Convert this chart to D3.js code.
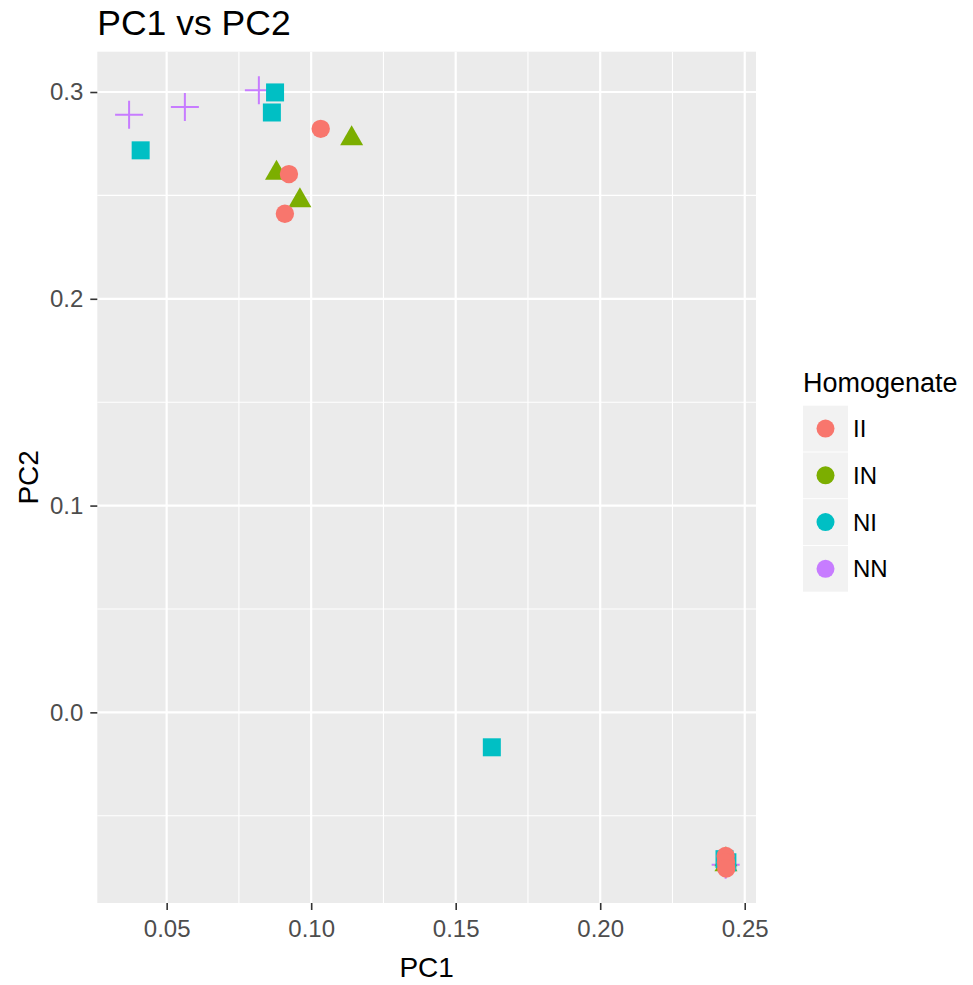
<!DOCTYPE html>
<html>
<head>
<meta charset="utf-8">
<script src="https://cdn.jsdelivr.net/npm/d3@7"></script>
<style>
  body { margin: 0; background: #fff; }
  text { font-family: Arial, "Liberation Sans", sans-serif; }
</style>
</head>
<body>
<svg id="chart" width="973" height="985"></svg>
<script>
// groups in legend order with ggplot default hues
const groups = ['II', 'IN', 'NI', 'NN'];
const colors = ['#F8766D', '#7CAE00', '#00BFC4', '#C77CFF'];

// PC scores
const nnPC1 = [0.0370, 0.0563, 0.0819, 0.2434];
const nnPC2 = [0.2890, 0.2927, 0.3008, -0.0737];
const inPC1 = [0.1140, 0.0880, 0.0961, 0.2435, 0.2435];
const inPC2 = [0.2775, 0.2608, 0.2475, -0.0712, -0.0736];
const niPC1 = [0.0410, 0.0875, 0.0864, 0.1625, 0.2430, 0.2440];
const niPC2 = [0.2718, 0.2998, 0.2901, -0.0169, -0.0710, -0.0725];
const iiPC1 = [0.1033, 0.0923, 0.0909, 0.2434, 0.2435, 0.2436];
const iiPC2 = [0.2822, 0.2603, 0.2411, -0.0695, -0.0725, -0.0755];

const xTicks = [0.05, 0.10, 0.15, 0.20, 0.25];
const yTicks = [0.0, 0.1, 0.2, 0.3];
const xMinor = [0.075, 0.125, 0.175, 0.225];
const yMinor = [-0.05, 0.05, 0.15, 0.25];
const xLimits = [0.026, 0.2539];
const yLimits = [-0.0922, 0.3195];

// build point list, drawing order NN, IN, NI, II
const points = [];
nnPC1.forEach((v, i) => points.push({ g: 'NN', x: v, y: nnPC2[i] }));
inPC1.forEach((v, i) => points.push({ g: 'IN', x: v, y: inPC2[i] }));
niPC1.forEach((v, i) => points.push({ g: 'NI', x: v, y: niPC2[i] }));
iiPC1.forEach((v, i) => points.push({ g: 'II', x: v, y: iiPC2[i] }));

const svg = d3.select('#chart');
const margin = { top: 51.7, right: 217, bottom: 82, left: 97.3 };
const width = 973 - margin.left - margin.right;
const height = 985 - margin.top - margin.bottom;

const x = d3.scaleLinear().domain(xLimits).range([0, width]);
const y = d3.scaleLinear().domain(yLimits).range([height, 0]);
const color = d3.scaleOrdinal().domain(groups).range(colors);

const g = svg.append('g')
  .attr('transform', `translate(${margin.left},${margin.top})`);

// panel background
g.append('rect')
  .attr('width', width)
  .attr('height', height)
  .attr('fill', '#EBEBEB');

// minor grid
g.selectAll('.xminor').data(xMinor).enter().append('line')
  .attr('x1', d => x(d)).attr('x2', d => x(d))
  .attr('y1', 0).attr('y2', height)
  .attr('stroke', '#fff').attr('stroke-width', 1.1);
g.selectAll('.yminor').data(yMinor).enter().append('line')
  .attr('y1', d => y(d)).attr('y2', d => y(d))
  .attr('x1', 0).attr('x2', width)
  .attr('stroke', '#fff').attr('stroke-width', 1.1);

// major grid
g.selectAll('.xmajor').data(xTicks).enter().append('line')
  .attr('x1', d => x(d)).attr('x2', d => x(d))
  .attr('y1', 0).attr('y2', height)
  .attr('stroke', '#fff').attr('stroke-width', 2.2);
g.selectAll('.ymajor').data(yTicks).enter().append('line')
  .attr('y1', d => y(d)).attr('y2', d => y(d))
  .attr('x1', 0).attr('x2', width)
  .attr('stroke', '#fff').attr('stroke-width', 2.2);

// axes
const xAxis = g.append('g')
  .attr('transform', `translate(0,${height})`)
  .call(d3.axisBottom(x).tickValues(xTicks).tickFormat(d3.format('.2f')).tickSize(7).tickPadding(10));
const yAxis = g.append('g')
  .call(d3.axisLeft(y).tickValues(yTicks).tickFormat(d3.format('.1f')).tickSize(7).tickPadding(7));

[xAxis, yAxis].forEach(a => {
  a.select('.domain').remove();
  a.selectAll('.tick line').attr('stroke', '#333').attr('stroke-width', 1.6);
  a.selectAll('.tick text')
    .attr('fill', '#4D4D4D')
    .style('font-size', '24px')
    .style('font-family', 'Arial, "Liberation Sans", sans-serif');
});

// points
const tri = d3.symbol().type(d3.symbolTriangle).size(229);
const drawn = g.append('g');
points.forEach(p => {
  const cx = x(p.x), cy = y(p.y), c = color(p.g);
  if (p.g === 'II') {
    drawn.append('circle').attr('cx', cx).attr('cy', cy).attr('r', 9.2).attr('fill', c);
  } else if (p.g === 'IN') {
    drawn.append('path').attr('d', tri).attr('transform', `translate(${cx},${cy})`).attr('fill', c);
  } else if (p.g === 'NI') {
    drawn.append('rect').attr('x', cx - 9).attr('y', cy - 9).attr('width', 18).attr('height', 18).attr('fill', c);
  } else {
    drawn.append('path')
      .attr('d', `M${cx - 14},${cy}H${cx + 14}M${cx},${cy - 14}V${cy + 14}`)
      .attr('stroke', c).attr('stroke-width', 2).attr('fill', 'none');
  }
});

// titles
svg.append('text')
  .attr('x', margin.left)
  .attr('y', 35)
  .style('font-size', '35.5px')
  .attr('fill', '#000')
  .text('PC1 vs PC2');

svg.append('text')
  .attr('x', margin.left + width / 2)
  .attr('y', 977)
  .attr('text-anchor', 'middle')
  .style('font-size', '28px')
  .text('PC1');

svg.append('text')
  .attr('transform', `translate(38,${margin.top + height / 2}) rotate(-90)`)
  .attr('text-anchor', 'middle')
  .style('font-size', '28px')
  .text('PC2');

// legend
const legend = svg.append('g').attr('transform', 'translate(803,0)');
legend.append('text')
  .attr('x', 0).attr('y', 392)
  .style('font-size', '27px')
  .text('Homogenate');

const keyY = d3.scaleBand().domain(groups).range([405.7, 405.7 + 46.5 * groups.length]).paddingInner(0.02);
const keys = legend.selectAll('.key').data(groups).enter().append('g')
  .attr('transform', d => `translate(0,${keyY(d)})`);
keys.append('rect')
  .attr('width', 45).attr('height', keyY.bandwidth())
  .attr('fill', '#F2F2F2');
keys.append('circle')
  .attr('cx', 22.5).attr('cy', keyY.bandwidth() / 2)
  .attr('r', 9).attr('fill', d => color(d));
keys.append('text')
  .attr('x', 50).attr('y', keyY.bandwidth() / 2)
  .attr('dy', '0.36em')
  .style('font-size', '24px')
  .attr('fill', '#000')
  .text(d => d);
</script>
</body>
</html>
